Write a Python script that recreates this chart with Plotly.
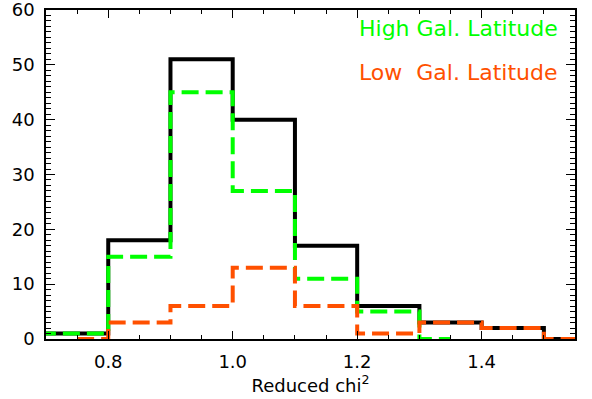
import plotly.graph_objects as go

# Histogram bin centres (bin width 0.1) and counts per bin
bin_centers = [0.65, 0.75, 0.85, 0.95, 1.05, 1.15, 1.25, 1.35, 1.45, 1.55]
total_counts = [1, 1, 18, 51, 40, 17, 6, 3, 2, 0]
high_lat_counts = [1, 1, 15, 45, 27, 11, 5, 0, None, None]
low_lat_counts = [None, 0, 3, 6, 13, 6, 1, 3, 2, 0]

x_ticks = [0.8, 1.0, 1.2, 1.4]
x_tick_text = ["0.8", "1.0", "1.2", "1.4"]
y_ticks = [0, 10, 20, 30, 40, 50, 60]

GREEN = "#00ff00"
ORANGE = "#ff5000"
FONT = "DejaVu Sans"

fig = go.Figure()

fig.add_trace(go.Scatter(
    x=bin_centers, y=total_counts, mode="lines",
    line=dict(color="black", width=4, shape="hvh"),
    showlegend=False,
))
fig.add_trace(go.Scatter(
    x=bin_centers, y=high_lat_counts, mode="lines",
    line=dict(color=GREEN, width=4, shape="hvh", dash="17px,7px"),
    showlegend=False,
))
fig.add_trace(go.Scatter(
    x=bin_centers, y=low_lat_counts, mode="lines",
    line=dict(color=ORANGE, width=4, shape="hvh", dash="17px,7px"),
    showlegend=False,
))

fig.add_annotation(
    x=1.2, y=56.6, xref="x", yref="y", xanchor="left", yanchor="middle",
    text="High Gal. Latitude", showarrow=False,
    font=dict(family=FONT, size=22, color=GREEN),
)
fig.add_annotation(
    x=1.2, y=48.6, xref="x", yref="y", xanchor="left", yanchor="middle",
    text="Low\u00a0\u00a0Gal. Latitude", showarrow=False,
    font=dict(family=FONT, size=22, color=ORANGE),
)

axis_common = dict(
    showline=True, linecolor="black", linewidth=1.5, mirror="ticks",
    ticks="inside", tickcolor="black", tickwidth=1.2,
    showgrid=False, zeroline=False, ticklabeloverflow="allow",
    tickfont=dict(family=FONT, size=18, color="black"),
)

fig.update_xaxes(
    range=[0.7, 1.55], tickmode="array", tickvals=x_ticks, ticktext=x_tick_text,
    ticklen=8, ticklabelstandoff=6,
    minor=dict(dtick=0.05, tick0=0.7, ticks="inside", ticklen=4,
               tickcolor="black", tickwidth=1.2, showgrid=False),
    title=dict(text="Reduced chi<sup>2</sup>", standoff=4,
               font=dict(family=FONT, size=18, color="black")),
    **axis_common,
)
fig.update_yaxes(
    range=[0, 60], tickmode="array", tickvals=y_ticks,
    ticklen=9, ticklabelstandoff=6,
    minor=dict(dtick=1, tick0=0, ticks="inside", ticklen=5,
               tickcolor="black", tickwidth=1.2, showgrid=False),
    **axis_common,
)

fig.update_layout(
    width=592, height=399,
    margin=dict(l=46, r=17, t=10, b=60, autoexpand=False),
    plot_bgcolor="white", paper_bgcolor="white",
    showlegend=False,
)

fig.write_html("out.html")
